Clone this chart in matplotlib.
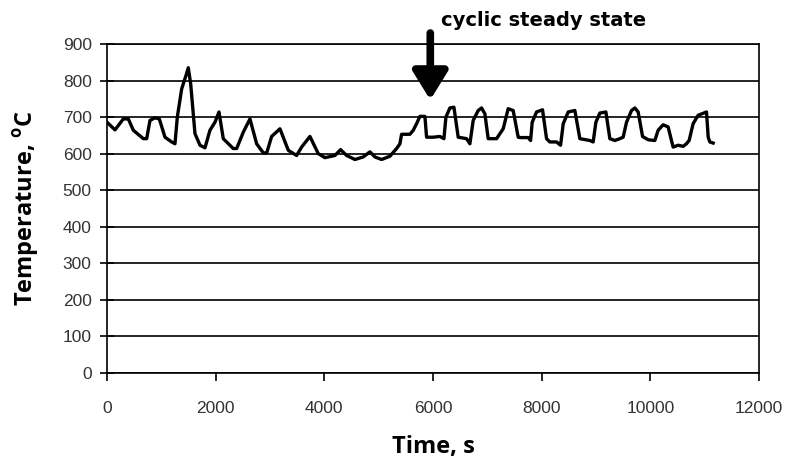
import matplotlib
matplotlib.use("Agg")
import matplotlib.pyplot as plt
import numpy as np

# Temperature history
time_s = [0, 147, 300, 392, 484, 668, 730, 791, 883, 963, 1067, 1190, 1251,
          1294, 1374, 1454, 1496, 1540, 1619, 1711, 1803, 1895, 1987, 2061,
          2140, 2324, 2386, 2509, 2631, 2754, 2877, 2939, 3030, 3183, 3337,
          3490, 3582, 3735, 3888, 4011, 4195, 4299, 4410, 4563, 4716, 4839,
          4931, 5054, 5207, 5330, 5391, 5422, 5575, 5637, 5698, 5759, 5851,
          5882, 6005, 6127, 6201, 6238, 6311, 6385, 6464, 6618, 6679, 6740,
          6832, 6894, 6955, 7016, 7170, 7292, 7384, 7476, 7568, 7599, 7752,
          7796, 7826, 7906, 8016, 8090, 8151, 8274, 8348, 8397, 8489, 8611,
          8703, 8887, 8948, 8998, 9071, 9182, 9255, 9347, 9439, 9500, 9562,
          9654, 9715, 9776, 9857, 9960, 10083, 10144, 10236, 10328, 10389,
          10420, 10512, 10604, 10665, 10714, 10788, 10880, 11034, 11065,
          11095, 11156]
temperature_c = [686, 665, 695, 695, 664, 641, 641, 691, 698, 695, 645, 632,
                 627, 700, 777, 814, 835, 791, 655, 623, 616, 664, 686, 714,
                 641, 614, 614, 659, 695, 627, 602, 602, 647, 668, 609, 595,
                 618, 647, 600, 589, 595, 611, 595, 584, 591, 605, 591, 584,
                 593, 614, 627, 653, 653, 664, 682, 702, 702, 645, 645, 647,
                 641, 700, 725, 727, 645, 641, 627, 691, 718, 725, 709, 641,
                 641, 668, 723, 718, 645, 644, 644, 636, 686, 714, 720, 641,
                 632, 632, 623, 682, 714, 718, 641, 636, 632, 686, 711, 714,
                 641, 636, 641, 645, 686, 718, 725, 714, 647, 638, 636, 664,
                 679, 673, 636, 618, 623, 620, 627, 636, 682, 705, 714, 645,
                 632, 629]

y_ticks = np.arange(0, 1000, 100)
x_ticks = np.arange(0, 14000, 2000)
arrow_time = 5950
arrow_tip = 747
arrow_tail = 930

fig = plt.figure(figsize=(7.95, 4.61), dpi=100)
ax = fig.add_axes([0.1346, 0.1909, 0.8201, 0.7137])

ax.plot(time_s, temperature_c, color="black", linewidth=2.4, zorder=3)

ax.set_xlim(0, 12000)
ax.set_ylim(0, 900)
ax.set_xticks(x_ticks)
ax.set_yticks(y_ticks)
ax.yaxis.grid(True, color="black", linewidth=1.2)
ax.set_axisbelow(True)

tick_font = {"family": "Liberation Sans", "size": 12.5}
ax.set_xticklabels([str(v) for v in x_ticks], fontdict=tick_font, color="#333333")
ax.set_yticklabels([str(v) for v in y_ticks], fontdict=tick_font, color="#333333")
ax.tick_params(axis="y", direction="inout", length=10, width=1.2, pad=6)
ax.tick_params(axis="x", direction="out", length=6, width=1.2, pad=14)
for spine in ax.spines.values():
    spine.set_linewidth(1.2)

label_font = {"family": "Open Sans", "weight": "bold", "size": 17}
ax.set_xlabel("Time, s", fontdict=label_font, labelpad=14)
ax.set_ylabel("Temperature, $^{\\mathregular{o}}$C", fontdict=label_font, labelpad=15)

ax.annotate(
    "",
    xy=(arrow_time, arrow_tip),
    xytext=(arrow_time, arrow_tail),
    annotation_clip=False,
    arrowprops=dict(arrowstyle="-|>,head_length=1.7,head_width=1.05",
                    color="black", linewidth=5.5, capstyle="round",
                    shrinkA=0, shrinkB=0),
)
fig.text(0.555, 0.955, "cyclic steady state", family="DejaVu Sans",
         weight="bold", size=14, ha="left", va="center")

fig.savefig("out.png", dpi=100)
